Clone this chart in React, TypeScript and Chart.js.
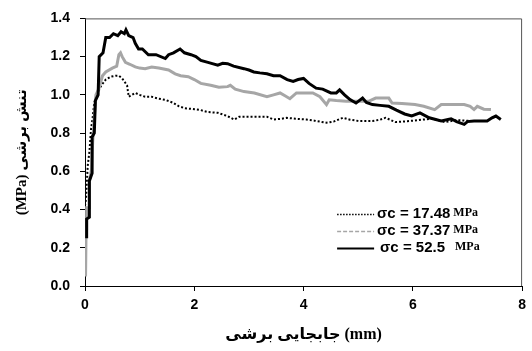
import React, { useEffect, useRef } from "react";
import { Chart, registerables } from "chart.js";

Chart.register(...registerables);

// σc = 17.48 MPa (dotted)
const x1748 = [0.0, 0.02, 0.05, 0.08, 0.11, 0.14, 0.17, 0.23, 0.3, 0.38, 0.47, 0.56, 0.62, 0.68, 0.77, 0.8, 0.86, 0.92, 1.0, 1.1, 1.22, 1.35, 1.47, 1.6, 1.72, 1.83, 2.0, 2.12, 2.25, 2.43, 2.6, 2.73, 2.82, 2.91, 3.1, 3.33, 3.45, 3.6, 3.69, 3.85, 4.05, 4.2, 4.42, 4.55, 4.72, 4.85, 5.02, 5.26, 5.4, 5.5, 5.68, 5.9, 6.1, 6.34, 6.58, 6.82, 7.06];
const y1748 = [0.42, 0.46, 0.63, 0.7, 0.82, 0.88, 0.96, 1.01, 1.05, 1.08, 1.095, 1.1, 1.1, 1.086, 1.05, 0.99, 1.0, 1.01, 1.0, 0.99, 0.99, 0.98, 0.974, 0.96, 0.94, 0.93, 0.925, 0.92, 0.91, 0.906, 0.89, 0.871, 0.885, 0.885, 0.885, 0.885, 0.871, 0.875, 0.88, 0.875, 0.871, 0.865, 0.854, 0.86, 0.88, 0.87, 0.863, 0.863, 0.87, 0.88, 0.858, 0.862, 0.868, 0.875, 0.858, 0.868, 0.863];

// σc = 37.37 MPa (gray)
const x3737 = [0.01, 0.02, 0.03, 0.08, 0.08, 0.12, 0.14, 0.17, 0.2, 0.25, 0.32, 0.38, 0.5, 0.58, 0.62, 0.65, 0.68, 0.74, 0.82, 0.92, 1.0, 1.1, 1.22, 1.35, 1.53, 1.65, 1.75, 1.89, 2.0, 2.12, 2.3, 2.45, 2.61, 2.66, 2.75, 2.91, 3.1, 3.33, 3.45, 3.57, 3.66, 3.75, 3.87, 4.0, 4.17, 4.3, 4.42, 4.47, 4.6, 4.78, 5.0, 5.19, 5.32, 5.56, 5.62, 5.8, 6.04, 6.2, 6.4, 6.52, 6.94, 7.05, 7.12, 7.18, 7.3, 7.43];
const y3737 = [0.05, 0.3, 0.41, 0.41, 0.55, 0.61, 0.75, 0.88, 1.0, 1.03, 1.1, 1.12, 1.14, 1.15, 1.21, 1.22, 1.2, 1.17, 1.16, 1.146, 1.14, 1.137, 1.146, 1.14, 1.13, 1.11, 1.1, 1.095, 1.08, 1.06, 1.05, 1.04, 1.043, 1.05, 1.03, 1.017, 1.01, 0.99, 1.0, 1.01, 0.995, 0.98, 1.01, 1.01, 1.01, 0.99, 0.949, 0.974, 0.97, 0.966, 0.966, 0.966, 0.983, 0.983, 0.957, 0.955, 0.949, 0.94, 0.923, 0.949, 0.949, 0.94, 0.923, 0.94, 0.925, 0.923];

// σc = 52.5 MPa (black)
const x525 = [0.03, 0.03, 0.08, 0.08, 0.13, 0.13, 0.17, 0.19, 0.24, 0.26, 0.33, 0.38, 0.45, 0.52, 0.6, 0.66, 0.72, 0.75, 0.8, 0.88, 0.92, 0.98, 1.05, 1.16, 1.3, 1.47, 1.53, 1.62, 1.74, 1.82, 1.94, 2.03, 2.12, 2.25, 2.43, 2.52, 2.61, 2.72, 2.91, 3.0, 3.09, 3.2, 3.33, 3.45, 3.57, 3.7, 3.81, 3.9, 4.0, 4.1, 4.23, 4.35, 4.5, 4.6, 4.66, 4.75, 4.85, 4.96, 5.08, 5.15, 5.26, 5.4, 5.56, 5.7, 5.85, 5.98, 6.13, 6.3, 6.52, 6.7, 6.8, 6.94, 7.0, 7.12, 7.36, 7.45, 7.52, 7.61];
const y525 = [0.25, 0.35, 0.36, 0.55, 0.59, 0.78, 0.8, 0.97, 1.0, 1.2, 1.22, 1.3, 1.3, 1.32, 1.31, 1.33, 1.32, 1.34, 1.31, 1.3, 1.27, 1.24, 1.24, 1.21, 1.21, 1.19, 1.21, 1.22, 1.24, 1.22, 1.21, 1.2, 1.18, 1.17, 1.155, 1.165, 1.163, 1.15, 1.137, 1.13, 1.12, 1.115, 1.11, 1.1, 1.1, 1.08, 1.07, 1.08, 1.086, 1.06, 1.035, 1.03, 1.01, 1.01, 1.026, 1.0, 0.975, 0.957, 0.983, 0.96, 0.949, 0.945, 0.94, 0.92, 0.9, 0.89, 0.906, 0.88, 0.863, 0.875, 0.86, 0.846, 0.86, 0.863, 0.863, 0.88, 0.889, 0.871];

const seriesValues = ["17.48", "37.37", "52.5"];
const xTicks = [0, 2, 4, 6, 8];
const yTicks = [0, 0.2, 0.4, 0.6, 0.8, 1.0, 1.2, 1.4];
const xTitle = "جابجایی برشی (mm)";
const yTitle = "(MPa) تنش برشی";

const zip = (xs: number[], ys: number[]) => xs.map((x, i) => ({ x, y: ys[i] }));

const framePlugin = {
  id: "frame",
  afterDatasetsDraw(chart: any) {
    const { ctx, chartArea: a } = chart;
    ctx.save();
    ctx.strokeStyle = "#555";
    ctx.lineWidth = 1;
    ctx.beginPath();
    ctx.moveTo(a.left, a.top + 0.5);
    ctx.lineTo(a.right - 0.5, a.top + 0.5);
    ctx.lineTo(a.right - 0.5, a.bottom);
    ctx.stroke();
    ctx.restore();
  },
};

const legendPlugin = {
  id: "customLegend",
  afterDraw(chart: any) {
    const { ctx, chartArea: a } = chart;
    const rows = chart.data.datasets.map((d: any) => d);
    ctx.save();
    const baseY = 214;
    rows.forEach((d: any, i: number) => {
      const y = baseY + i * 17;
      const sx1 = a.right - 185;
      const sx2 = a.right - 148;
      ctx.beginPath();
      ctx.strokeStyle = d.borderColor;
      ctx.lineWidth = i === 2 ? 2 : 1.5;
      ctx.setLineDash(i === 0 ? [1.5, 1.5] : i === 1 ? [4, 2] : []);
      ctx.moveTo(sx1, y + 0.5);
      ctx.lineTo(sx2, y + 0.5);
      ctx.stroke();
      ctx.setLineDash([]);
      ctx.fillStyle = "#000";
      ctx.textBaseline = "middle";
      ctx.textAlign = "left";
      ctx.font = "bold 15px 'Liberation Sans', Arial, sans-serif";
      const tx = a.right - 145 + (i === 2 ? 3 : 0);
      const main = "σc = " + seriesValues[i];
      ctx.fillText(main, tx, y);
      const w = ctx.measureText(main).width;
      ctx.font = "bold 12px 'Liberation Serif', 'Times New Roman', serif";
      ctx.fillText("MPa", tx + w + (i === 2 ? 10 : 3), y - 1);
    });
    ctx.restore();
  },
};

export default function App() {
  const ref = useRef<HTMLCanvasElement | null>(null);
  useEffect(() => {
    if (!ref.current) return;
    const tickFont = { family: "'Liberation Sans', Arial, sans-serif", size: 14, weight: "bold" as const };
    const chart = new Chart(ref.current, {
      type: "line",
      data: {
        datasets: [
          {
            label: "σc = " + seriesValues[0] + " MPa",
            data: zip(x1748, y1748),
            borderColor: "#000",
            borderWidth: 2,
            borderDash: [2, 2],
            pointRadius: 0,
            tension: 0,
            order: 2,
          },
          {
            label: "σc = " + seriesValues[1] + " MPa",
            data: zip(x3737, y3737),
            borderColor: "#a6a6a6",
            borderWidth: 3,
            pointRadius: 0,
            tension: 0,
            order: 1,
          },
          {
            label: "σc = " + seriesValues[2] + " MPa",
            data: zip(x525, y525),
            borderColor: "#000",
            borderWidth: 3,
            pointRadius: 0,
            tension: 0,
            order: 0,
          },
        ],
      },
      options: {
        responsive: false,
        animation: false,
        layout: { padding: { top: 14, right: 4, left: 0, bottom: 0 } },
        plugins: { legend: { display: false }, tooltip: { enabled: false } },
        scales: {
          x: {
            type: "linear",
            min: 0,
            max: 8,
            afterBuildTicks: (s: any) => {
              s.ticks = xTicks.map((v) => ({ value: v }));
            },
            afterFit: (s: any) => {
              s.height = 65;
            },
            ticks: { font: tickFont, color: "#000", padding: 6, maxRotation: 0 },
            grid: { drawOnChartArea: false, drawTicks: true, tickLength: 5, color: "#000" },
            border: { color: "#000", width: 1 },
            title: {
              display: true,
              text: xTitle,
              color: "#000",
              font: { family: "'Liberation Serif', 'DejaVu Sans', serif", size: 16, weight: "bold" },
              padding: { top: 0, bottom: 7 },
            },
          },
          y: {
            type: "linear",
            min: 0,
            max: 1.4,
            afterBuildTicks: (s: any) => {
              s.ticks = yTicks.map((v) => ({ value: v }));
            },
            afterFit: (s: any) => {
              s.width = 85;
            },
            ticks: {
              font: tickFont,
              color: "#000",
              padding: 10,
              callback: (v: any) => Number(v).toFixed(1),
            },
            grid: { drawOnChartArea: false, drawTicks: true, tickLength: 5, color: "#000" },
            border: { color: "#000", width: 1 },
            title: {
              display: true,
              text: yTitle,
              color: "#000",
              font: { family: "'Liberation Serif', 'DejaVu Sans', serif", size: 15, weight: "bold" },
              padding: { top: 13, bottom: 0 },
            },
          },
        },
      },
      plugins: [framePlugin, legendPlugin],
    });
    return () => chart.destroy();
  }, []);
  return (
    <div style={{ position: "absolute", left: 0, top: 0, width: 532, height: 351, background: "#fff" }}>
      <canvas ref={ref} width={532} height={351} style={{ display: "block" }} />
    </div>
  );
}
